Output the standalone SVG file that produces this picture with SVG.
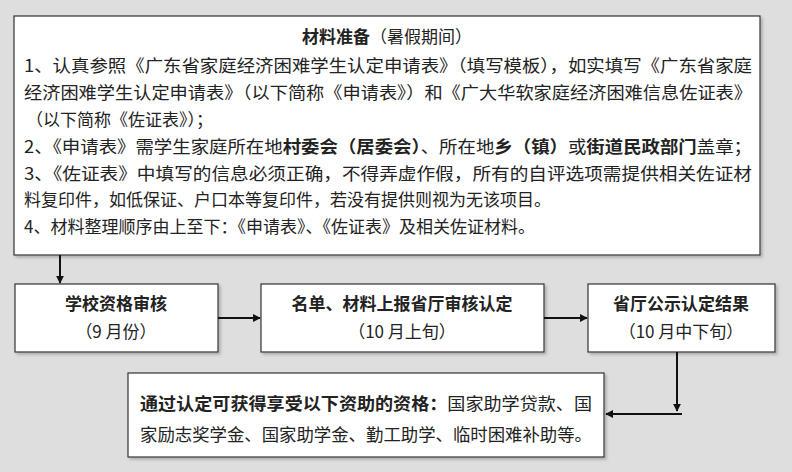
<svg xmlns="http://www.w3.org/2000/svg" width="792" height="472" viewBox="0 0 792 472">
<defs>
<marker id="ah" viewBox="0 0 10 10" refX="9" refY="5" markerWidth="8" markerHeight="8" orient="auto" markerUnits="userSpaceOnUse"><path d="M0,0 L10,5 L0,10 z" fill="#111"/></marker>
<filter id="sh" x="-5%" y="-5%" width="110%" height="115%"><feDropShadow dx="2" dy="2" stdDeviation="1.5" flood-color="#888" flood-opacity="0.6"/></filter>
</defs>
<style>
text{font-family:"Noto Sans CJK SC","Liberation Sans",sans-serif;fill:#222;font-size:17px}
.b{font-weight:bold}
.box{fill:#fff;stroke:#333;stroke-width:1.2;filter:url(#sh)}
.c{stroke:#111;stroke-width:2;fill:none;marker-end:url(#ah)}
</style>
<rect width="792" height="472" fill="#dedede"/>
<g id="prep">
<rect class="box" x="14" y="16" width="746" height="239"/>
<text x="387" y="43" text-anchor="middle"><tspan class="b">材料准备</tspan>（暑假期间）</text>
<text x="24" y="72" textLength="728" lengthAdjust="spacingAndGlyphs">1、认真参照《广东省家庭经济困难学生认定申请表》（填写模板），如实填写《广东省家庭</text>
<text x="24" y="99" textLength="728" lengthAdjust="spacingAndGlyphs">经济困难学生认定申请表》（以下简称《申请表》）和《广大华软家庭经济困难信息佐证表》</text>
<text x="26" y="126">（以下简称《佐证表》）；</text>
<text x="24" y="153" textLength="728" lengthAdjust="spacingAndGlyphs">2、《申请表》需学生家庭所在地<tspan class="b">村委会（居委会）</tspan>、所在地<tspan class="b">乡（镇）</tspan>或<tspan class="b">街道民政部门</tspan>盖章；</text>
<text x="24" y="180" textLength="728" lengthAdjust="spacingAndGlyphs">3、《佐证表》中填写的信息必须正确，不得弄虚作假，所有的自评选项需提供相关佐证材</text>
<text x="24" y="206">料复印件，如低保证、户口本等复印件，若没有提供则视为无该项目。</text>
<text x="24" y="233">4、材料整理顺序由上至下：《申请表》、《佐证表》及相关佐证材料。</text>
</g>
<g id="school">
<rect class="box" x="15" y="284" width="203" height="68"/>
<text class="b" x="116" y="310" text-anchor="middle" font-size="18">学校资格审核</text>
<text x="116" y="338" text-anchor="middle">（9 月份）</text>
</g>
<g id="report">
<rect class="box" x="261" y="284" width="283" height="68"/>
<text class="b" x="402" y="310" text-anchor="middle" font-size="18">名单、材料上报省厅审核认定</text>
<text x="402" y="338" text-anchor="middle">（10 月上旬）</text>
</g>
<g id="publish">
<rect class="box" x="588" y="284" width="187" height="68"/>
<text class="b" x="681" y="310" text-anchor="middle" font-size="18">省厅公示认定结果</text>
<text x="681" y="338" text-anchor="middle">（10 月中下旬）</text>
</g>
<g id="result">
<rect class="box" x="128" y="373" width="476" height="84"/>
<text x="140" y="410" textLength="452" lengthAdjust="spacingAndGlyphs"><tspan class="b">通过认定可获得享受以下资助的资格：</tspan>国家助学贷款、国</text>
<text x="140" y="441" textLength="452" lengthAdjust="spacingAndGlyphs">家励志奖学金、国家助学金、勤工助学、临时困难补助等。</text>
</g>
<g id="connectors">
<path class="c" d="M60,255 V283"/>
<path class="c" d="M218,318 H260"/>
<path class="c" d="M544,318 H587"/>
<path class="c" d="M677,352 V411"/>
<path stroke="#111" stroke-width="2" d="M682,414 H660"/>
<path class="c" d="M662,414 H606"/>
</g>
</svg>
